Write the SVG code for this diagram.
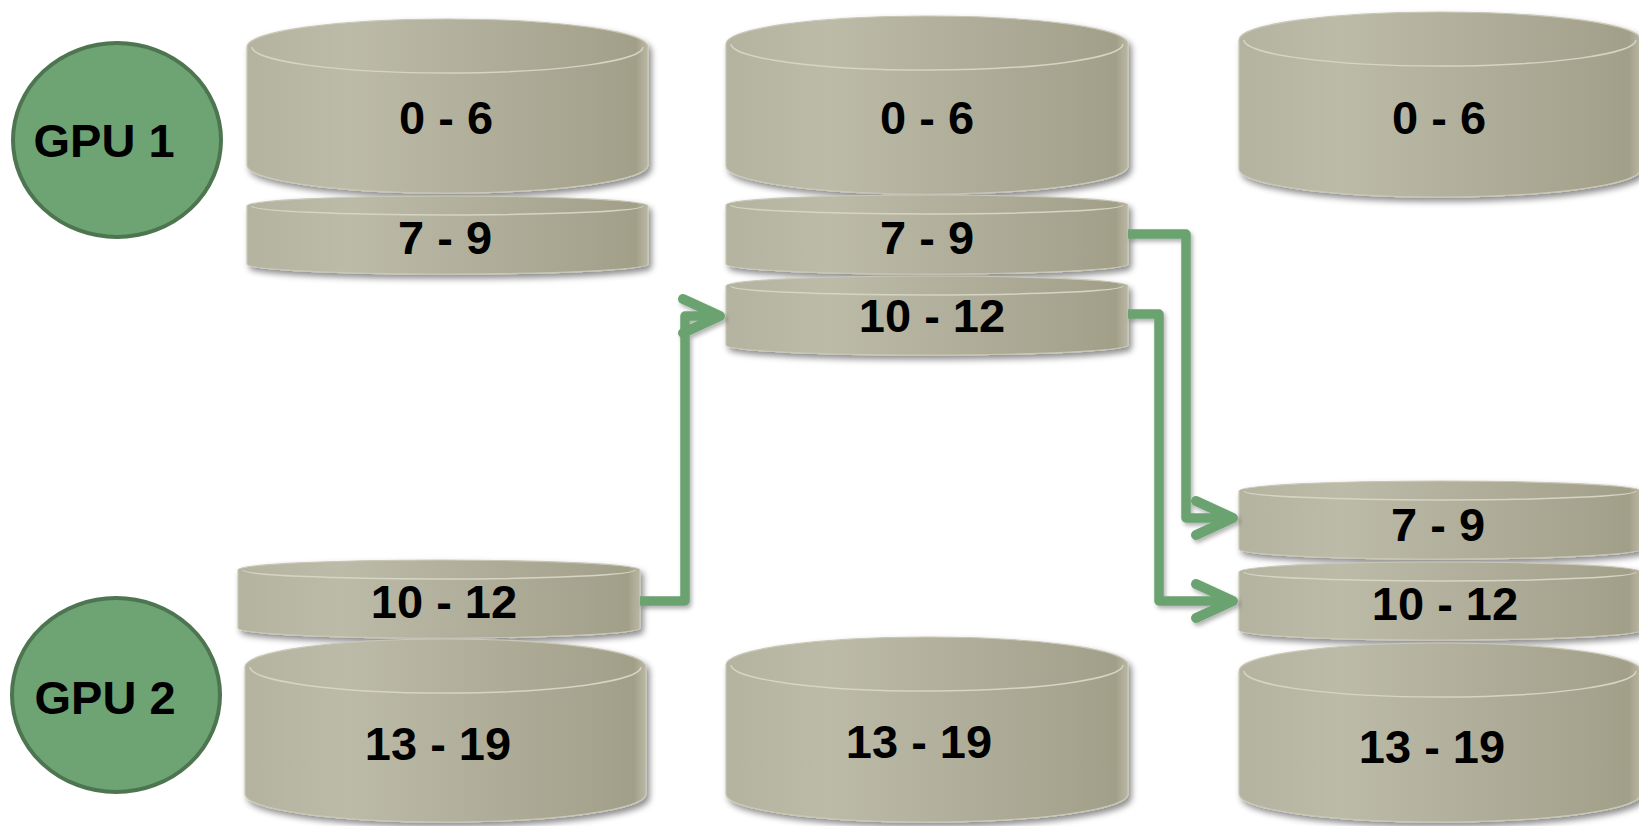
<svg xmlns="http://www.w3.org/2000/svg" width="1639" height="826" viewBox="0 0 1639 826">
<defs>
<linearGradient id="cylg" x1="0" y1="0" x2="1" y2="0">
<stop offset="0" stop-color="#b4b39f"/>
<stop offset="0.25" stop-color="#bcbba8"/>
<stop offset="0.75" stop-color="#aaa893"/>
<stop offset="0.97" stop-color="#a29f89"/>
<stop offset="1" stop-color="#bab8a4"/>
</linearGradient>
<filter id="sh" x="-10%" y="-20%" width="125%" height="150%">
<feDropShadow dx="3" dy="4" stdDeviation="3" flood-color="#000" flood-opacity="0.45"/>
</filter>
<filter id="lsh" x="-20%" y="-20%" width="140%" height="140%">
<feDropShadow dx="2" dy="3" stdDeviation="2" flood-color="#000" flood-opacity="0.3"/>
</filter>
<marker id="arr" markerUnits="userSpaceOnUse" viewBox="-50 -25 56 50" markerWidth="56" markerHeight="50" refX="0" refY="0" orient="auto" overflow="visible">
<path d="M-37,-17 L0,0 L-37,17" fill="none" stroke="#6aa370" stroke-width="10" stroke-linecap="round" stroke-linejoin="round"/>
</marker>
</defs>
<style>
.cyl{fill:url(#cylg);stroke:#c9c7b6;stroke-width:1.2;filter:url(#sh)}
.rim{fill:none;stroke:#d6d4c3;stroke-width:1.5}
.lbl{font-family:"Liberation Sans",Arial,sans-serif;font-weight:bold;font-size:47px;fill:#000;text-anchor:middle}
.gpu{fill:#6ea374;stroke:#4d7550;stroke-width:4}
.con{fill:none;stroke:#6aa370;stroke-width:9.5;stroke-linejoin:round;filter:url(#lsh)}
</style>
<rect width="1639" height="826" fill="#fff"/>

<g id="gpu1">
<ellipse class="gpu" cx="117" cy="140" rx="104" ry="97"/>
<text class="lbl" x="104" y="157" font-size="46">GPU 1</text>
</g>
<g id="gpu2">
<ellipse class="gpu" cx="116" cy="695" rx="104" ry="97"/>
<text class="lbl" x="105" y="714" font-size="46">GPU 2</text>
</g>

<g id="c1-0-6">
<path class="cyl" d="M247,47 A200.5,28 0 0 1 648,47 V165 A200.5,28 0 0 1 247,165 Z"/>
<path class="rim" d="M252,47 A195.5,26 0 0 0 643,47"/>
<text class="lbl" x="446" y="134">0 - 6</text>
</g>
<g id="c1-7-9">
<path class="cyl" d="M247,206 A200.5,10 0 0 1 648,206 V264 A200.5,10 0 0 1 247,264 Z"/>
<path class="rim" d="M252,206 A195.5,9 0 0 0 643,206"/>
<text class="lbl" x="445" y="254">7 - 9</text>
</g>
<g id="c1-10-12">
<path class="cyl" d="M238,570 A201,10 0 0 1 640,570 V628 A201,10 0 0 1 238,628 Z"/>
<path class="rim" d="M243,570 A196,9 0 0 0 635,570"/>
<text class="lbl" x="444" y="618">10 - 12</text>
</g>
<g id="c1-13-19">
<path class="cyl" d="M245,667 A200.5,28 0 0 1 646,667 V794 A200.5,28 0 0 1 245,794 Z"/>
<path class="rim" d="M250,667 A195.5,26 0 0 0 641,667"/>
<text class="lbl" x="438" y="760">13 - 19</text>
</g>

<g id="c2-0-6">
<path class="cyl" d="M726,44 A201,28 0 0 1 1128,44 V166 A201,28 0 0 1 726,166 Z"/>
<path class="rim" d="M731,44 A196,26 0 0 0 1123,44"/>
<text class="lbl" x="927" y="134">0 - 6</text>
</g>
<g id="c2-7-9">
<path class="cyl" d="M726,205 A201,10 0 0 1 1128,205 V264 A201,10 0 0 1 726,264 Z"/>
<path class="rim" d="M731,205 A196,9 0 0 0 1123,205"/>
<text class="lbl" x="927" y="254">7 - 9</text>
</g>
<g id="c2-10-12">
<path class="cyl" d="M726,286 A201,10 0 0 1 1128,286 V345 A201,10 0 0 1 726,345 Z"/>
<path class="rim" d="M731,286 A196,9 0 0 0 1123,286"/>
<text class="lbl" x="932" y="332">10 - 12</text>
</g>
<g id="c2-13-19">
<path class="cyl" d="M726,665 A201,28 0 0 1 1128,665 V794 A201,28 0 0 1 726,794 Z"/>
<path class="rim" d="M731,665 A196,26 0 0 0 1123,665"/>
<text class="lbl" x="919" y="758">13 - 19</text>
</g>

<g id="c3-0-6">
<path class="cyl" d="M1239,40 A201,28 0 0 1 1641,40 V169 A201,28 0 0 1 1239,169 Z"/>
<path class="rim" d="M1244,40 A196,26 0 0 0 1636,40"/>
<text class="lbl" x="1439" y="134">0 - 6</text>
</g>
<g id="c3-7-9">
<path class="cyl" d="M1239,491 A201,10 0 0 1 1641,491 V549 A201,10 0 0 1 1239,549 Z"/>
<path class="rim" d="M1244,491 A196,9 0 0 0 1636,491"/>
<text class="lbl" x="1438" y="541">7 - 9</text>
</g>
<g id="c3-10-12">
<path class="cyl" d="M1239,572 A201,10 0 0 1 1641,572 V630 A201,10 0 0 1 1239,630 Z"/>
<path class="rim" d="M1244,572 A196,9 0 0 0 1636,572"/>
<text class="lbl" x="1445" y="620">10 - 12</text>
</g>
<g id="c3-13-19">
<path class="cyl" d="M1239,671 A201,28 0 0 1 1641,671 V794 A201,28 0 0 1 1239,794 Z"/>
<path class="rim" d="M1244,671 A196,26 0 0 0 1636,671"/>
<text class="lbl" x="1432" y="763">13 - 19</text>
</g>

<g id="connectors">
<path class="con" d="M640,601 H685 V316 H720" marker-end="url(#arr)"/>
<path class="con" d="M1128,234 H1186 V518 H1233" marker-end="url(#arr)"/>
<path class="con" d="M1128,314 H1159 V601 H1233" marker-end="url(#arr)"/>
</g>
</svg>
